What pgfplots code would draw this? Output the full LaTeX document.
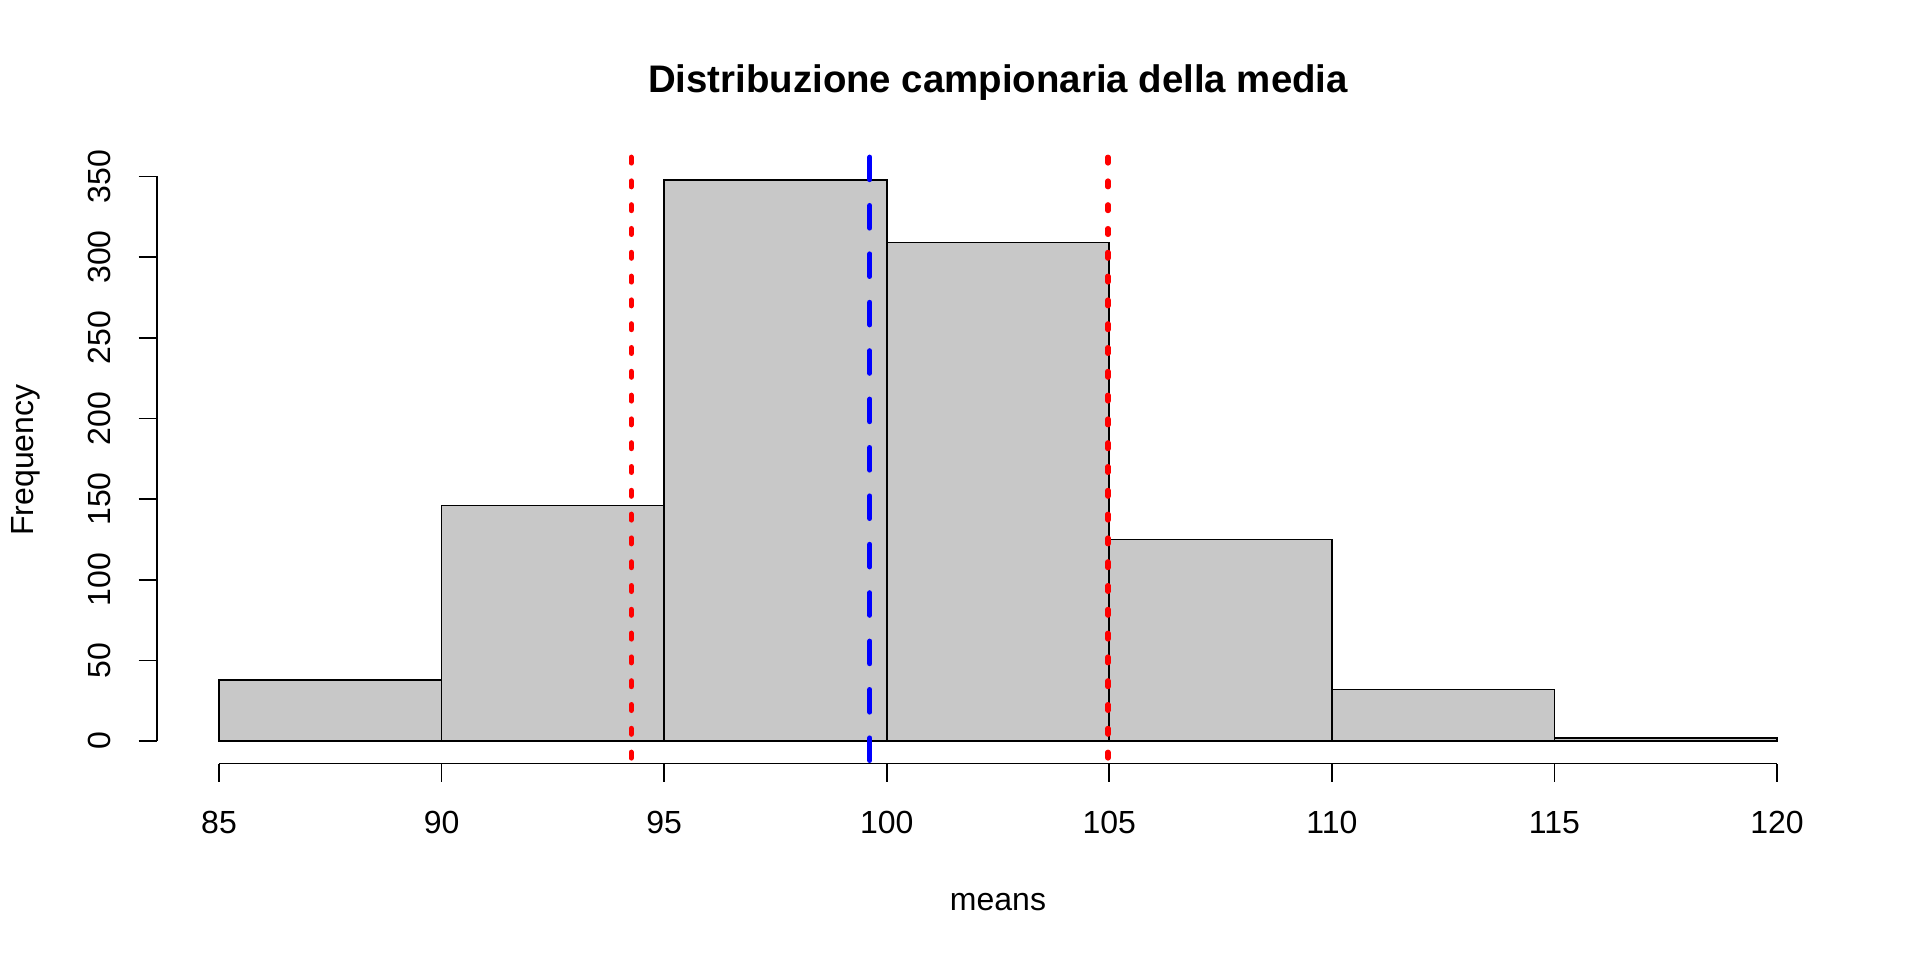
\documentclass[border=0pt]{standalone}
\usepackage{pgfplots}
\pgfplotsset{compat=1.18}
\usepackage{fontspec}
\setmainfont{Liberation Sans}

\definecolor{bargray}{HTML}{C8C8C8}

\begin{document}
\begin{tikzpicture}
\path[use as bounding box] (0,0) rectangle (960pt,480pt);
\begin{axis}[
    at={(78.35pt,98.25pt)},
    anchor=south west,
    scale only axis,
    width=841.3pt,
    height=303.15pt,
    xmin=83.6, xmax=121.4,
    ymin=-13.92, ymax=361.92,
    clip=false,
    axis line style={draw=none},
    tick align=outside,
    tickpos=left,
    major tick length=9pt,
    tick style={black, line width=0.85pt},
    xtick={85,90,...,120},
    ytick={0,50,...,350},
    /pgf/number format/assume math mode=true,
    ticklabel style={font=\fontsize{16}{19}\selectfont},
    xticklabel style={anchor=base, inner sep=0pt, yshift=-26pt},
    yticklabel style={xshift=-14pt, rotate=90, anchor=base, inner sep=0pt},
]
% histogram counts (bin left edges, last point repeats the final count)
\addplot[ybar interval, fill=bargray, draw=black, line width=0.85pt] coordinates {
  (85,38) (90,146) (95,348) (100,309) (105,125) (110,32) (115,2) (120,2)
};
% axis lines as R draws them, first to last tick
\draw[black, line width=0.85pt] (axis cs:85,-13.92) -- (axis cs:120,-13.92);
\draw[black, line width=0.85pt] (axis cs:83.6,0) -- (axis cs:83.6,350);
% interval bounds and mean
\addplot[red, line width=2.6pt, line cap=round, dash pattern=on 2.9pt off 9pt]
  coordinates {(94.26,361.92) (94.26,-13.92)};
\addplot[red, line width=2.6pt, line cap=round, dash pattern=on 2.9pt off 9pt]
  coordinates {(104.97,361.92) (104.97,-13.92)};
\addplot[blue, line width=2.6pt, line cap=round, dash pattern=on 11.2pt off 13pt]
  coordinates {(99.62,361.92) (99.62,-13.92)};
\end{axis}
\node[anchor=base, inner sep=0pt, font=\bfseries\fontsize{19.2}{23}\selectfont] at (499pt,433.6pt) {Distribuzione campionaria della media};
\node[anchor=base, inner sep=0pt, font=\fontsize{16}{19}\selectfont] at (499pt,25pt) {means};
\node[rotate=90, anchor=base, inner sep=0pt, font=\fontsize{16}{19}\selectfont] at (16.5pt,250pt) {Frequency};
\end{tikzpicture}
\end{document}
